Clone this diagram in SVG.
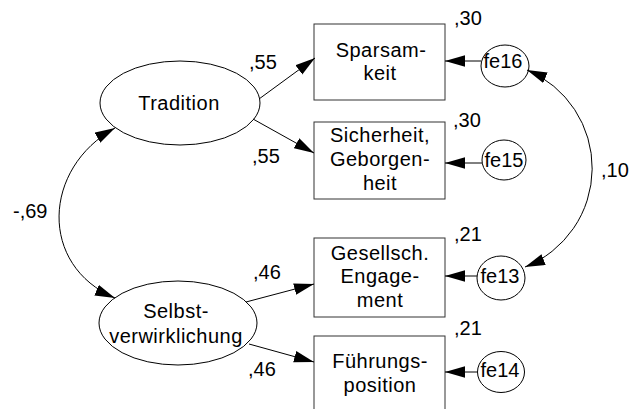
<svg xmlns="http://www.w3.org/2000/svg" width="629" height="409" viewBox="0 0 629 409">
  <style>
    .shape { fill: #ffffff; stroke: #000000; stroke-width: 1; }
    .box { fill: #ffffff; stroke: #333333; stroke-width: 1; }
    .lbl { font-family: "Liberation Sans", Arial, sans-serif; font-size: 20px; fill: #000000; text-anchor: middle; letter-spacing: 0.5px; }
    .num { font-family: "Liberation Sans", Arial, sans-serif; font-size: 20px; fill: #000000; }
    .edge { fill: none; stroke: #000000; stroke-width: 1; }
    .path { marker-end: url(#head); }
    .cov { marker-start: url(#head); marker-end: url(#head); }
  </style>
  <defs>
    <marker id="head" markerUnits="userSpaceOnUse" markerWidth="20" markerHeight="12" refX="20" refY="5.75" orient="auto-start-reverse">
      <path d="M0,0 L20,5.75 L0,11.5 Z" fill="#000000"/>
    </marker>
  </defs>

  <rect width="629" height="409" fill="#ffffff"/>

  <!-- latent factors -->
  <g id="tradition">
    <ellipse class="shape" cx="180" cy="103" rx="80" ry="42"/>
    <text class="lbl" x="179" y="110">Tradition</text>
  </g>
  <g id="selbstverwirklichung">
    <ellipse class="shape" cx="178" cy="323" rx="79" ry="42"/>
    <text class="lbl" x="176" y="318">Selbst-</text>
    <text class="lbl" x="176" y="343">verwirklichung</text>
  </g>

  <!-- observed indicators -->
  <g id="sparsamkeit">
    <rect class="box" x="314" y="24" width="131" height="76"/>
    <text class="lbl" x="381" y="57">Sparsam-</text>
    <text class="lbl" x="380" y="80">keit</text>
  </g>
  <g id="sicherheit">
    <rect class="box" x="314" y="122" width="131" height="77"/>
    <text class="lbl" x="380" y="142">Sicherheit,</text>
    <text class="lbl" x="380" y="166">Geborgen-</text>
    <text class="lbl" x="380" y="190">heit</text>
  </g>
  <g id="engagement">
    <rect class="box" x="314" y="238" width="131" height="79"/>
    <text class="lbl" x="380" y="260">Gesellsch.</text>
    <text class="lbl" x="380" y="283">Engage-</text>
    <text class="lbl" x="380" y="307">ment</text>
  </g>
  <g id="fuehrungsposition">
    <rect class="box" x="314" y="336" width="131" height="80"/>
    <text class="lbl" x="380" y="368">Führungs-</text>
    <text class="lbl" x="380" y="392">position</text>
  </g>

  <!-- error terms -->
  <g id="fe16">
    <ellipse class="shape" cx="505" cy="66" rx="24" ry="21"/>
    <text class="lbl" x="503" y="68" style="letter-spacing:0">fe16</text>
  </g>
  <g id="fe15">
    <ellipse class="shape" cx="504" cy="160" rx="22" ry="20"/>
    <text class="lbl" x="504" y="167" style="letter-spacing:0">fe15</text>
  </g>
  <g id="fe13">
    <ellipse class="shape" cx="501" cy="278" rx="24" ry="22"/>
    <text class="lbl" x="500" y="283" style="letter-spacing:0">fe13</text>
  </g>
  <g id="fe14">
    <ellipse class="shape" cx="501" cy="372" rx="23.5" ry="20.5"/>
    <text class="lbl" x="500" y="377" style="letter-spacing:0">fe14</text>
  </g>

  <!-- connectors -->
  <g id="connectors">
    <path class="edge path" d="M259,99 L315,58"/>
    <path class="edge path" d="M253,119 L314,153"/>
    <path class="edge path" d="M246,302 L314,284"/>
    <path class="edge path" d="M249,344 L314,362"/>
    <path class="edge path" d="M481,61 L445,61"/>
    <path class="edge path" d="M482,163 L445,163"/>
    <path class="edge path" d="M477,276 L445,276"/>
    <path class="edge path" d="M477,372 L445,372"/>
    <path class="edge cov" d="M115,298 C38.5,265.5 42.3,168.3 115,128"/>
    <path class="edge cov" d="M527,70 A106.4,106.4 0 0 1 525,267"/>
  </g>

  <!-- coefficients -->
  <g id="coefficients">
    <text class="num" x="249" y="69">,55</text>
    <text class="num" x="252" y="163">,55</text>
    <text class="num" x="253" y="279">,46</text>
    <text class="num" x="248" y="376">,46</text>
    <text class="num" x="13" y="218">-,69</text>
    <text class="num" x="454" y="25">,30</text>
    <text class="num" x="453" y="127">,30</text>
    <text class="num" x="601" y="177">,10</text>
    <text class="num" x="454" y="241">,21</text>
    <text class="num" x="454" y="335">,21</text>
  </g>
</svg>
